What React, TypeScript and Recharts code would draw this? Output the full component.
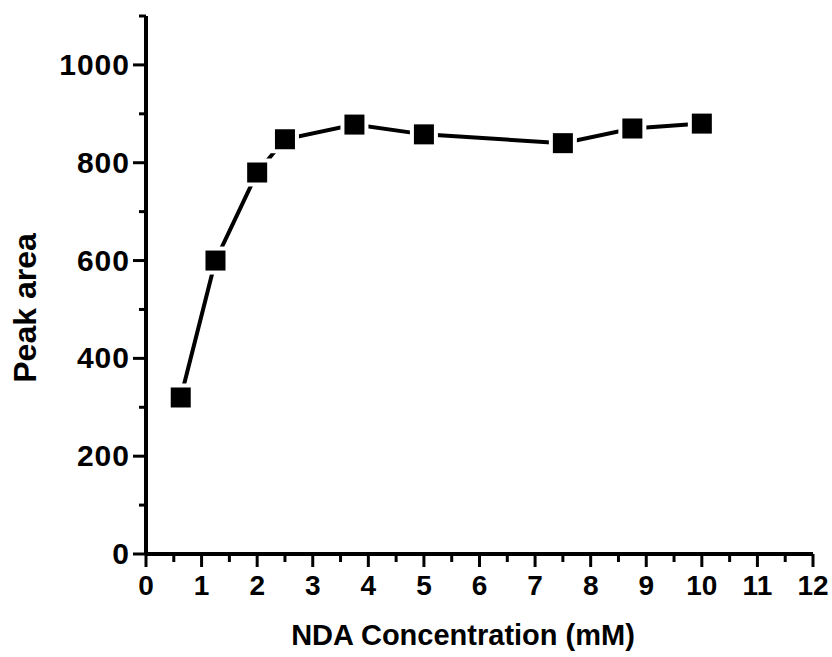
import { LineChart, XAxis, YAxis, Line } from "recharts";

const concentration = [0.625, 1.25, 2, 2.5, 3.75, 5, 7.5, 8.75, 10];
const peakArea = [320, 600, 780, 848, 878, 858, 840, 870, 880];

const xTicks = Array.from({ length: 25 }, (_, i) => i * 0.5);
const yTicks = Array.from({ length: 12 }, (_, i) => i * 100);
const yLabels = [0, 200, 400, 600, 800, 1000];

const data = concentration.map((c, i) => ({ x: c, y: peakArea[i] }));

const FONT = "'Liberation Sans', Arial, sans-serif";

const XTick = (props: any) => {
  const { x, y, payload } = props;
  const major = Number.isInteger(payload.value);
  return (
    <g>
      <line x1={x} x2={x} y1={y} y2={y + (major ? 13 : 8)} stroke="#000" strokeWidth={3} />
      {major && (
        <text x={x} y={y + 41} textAnchor="middle" fontSize={28} fontWeight="bold" fontFamily={FONT} fill="#000">
          {payload.value}
        </text>
      )}
    </g>
  );
};

const YTick = (props: any) => {
  const { x, y, payload } = props;
  const major = payload.value % 200 === 0;
  return (
    <g>
      <line x1={x} x2={x - (major ? 13 : 7)} y1={y} y2={y} stroke="#000" strokeWidth={3} />
      {yLabels.includes(payload.value) && (
        <text
          x={x - 16}
          y={y + 10}
          textAnchor="end"
          fontSize={30}
          letterSpacing={1}
          fontWeight="bold"
          fontFamily={FONT}
          fill="#000"
        >
          {payload.value}
        </text>
      )}
    </g>
  );
};

const SquareDot = (props: any) => {
  const { cx, cy, index } = props;
  return (
    <g key={index}>
      <rect x={cx - 14} y={cy - 14} width={28} height={28} fill="#fff" />
      <rect x={cx - 10} y={cy - 10} width={20} height={20} fill="#000" />
    </g>
  );
};

const App: React.FC = () => {
  return (
    <div style={{ position: "absolute", left: 0, top: 0, background: "#fff" }}>
      <LineChart
        width={832}
        height={657}
        data={data}
        margin={{ top: 16, right: 19, left: 0, bottom: 0 }}
      >
        <XAxis
          dataKey="x"
          type="number"
          domain={[0, 12]}
          ticks={xTicks}
          interval={0}
          tick={XTick}
          tickLine={false}
          tickSize={0}
          tickMargin={0}
          axisLine={{ stroke: "#000", strokeWidth: 4 }}
          height={103}
          label={(p: any) => {
            const vb = p.viewBox;
            return (
              <text
                x={463}
                y={vb.y + 91}
                textAnchor="middle"
                fontSize={29}
                fontWeight="bold"
                fontFamily={FONT}
                fill="#000"
              >
                NDA Concentration (mM)
              </text>
            );
          }}
        />
        <YAxis
          type="number"
          domain={[0, 1100]}
          ticks={yTicks}
          interval={0}
          tick={YTick}
          tickLine={false}
          tickSize={0}
          tickMargin={0}
          axisLine={{ stroke: "#000", strokeWidth: 4 }}
          width={146}
          label={() => (
            <text
              x={36}
              y={308}
              transform="rotate(-90 36 308)"
              textAnchor="middle"
              fontSize={32}
              fontWeight="bold"
              fontFamily={FONT}
              fill="#000"
            >
              Peak area
            </text>
          )}
        />
        <Line
          dataKey="y"
          type="linear"
          stroke="#000"
          strokeWidth={4}
          dot={SquareDot}
          isAnimationActive={false}
        />
      </LineChart>
    </div>
  );
};

export default App;
